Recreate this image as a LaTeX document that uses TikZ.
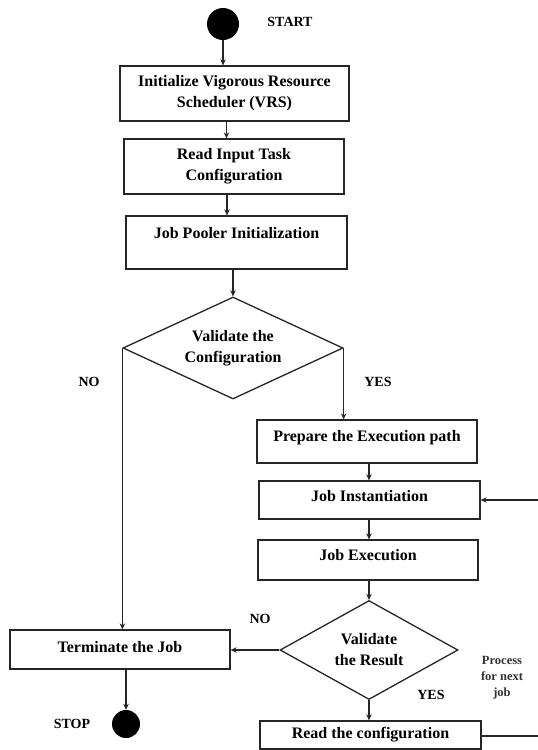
\documentclass[tikz,border=0pt]{standalone}
\usepackage{fontspec}
\setmainfont{Liberation Serif}
\usetikzlibrary{shapes.geometric,arrows.meta}
\tikzset{
  box/.style={draw=black!85, line width=1.3pt, rectangle, inner sep=0pt, align=center,
    font=\fontsize{16}{21}\selectfont\bfseries},
  dia/.style={draw=black!85, line width=1.3pt, diamond, aspect=2.2, inner sep=0pt, align=center,
    font=\fontsize{16}{21}\selectfont\bfseries},
  lbl/.style={font=\fontsize{14}{16}\selectfont\bfseries, inner sep=0pt},
  small/.style={font=\fontsize{12.5}{16}\selectfont\bfseries, align=center, inner sep=0pt, text=black!80},
  term/.style={circle, fill=black, inner sep=0pt},
  arr/.style={line width=1.2pt, draw=black!85, -{Stealth[length=6pt,width=5.5pt]}},
  ln/.style={line width=1.2pt, draw=black!85}
}
\begin{document}
\begin{tikzpicture}[x=1pt,y=-1pt]
\useasboundingbox (0,0) rectangle (538,750);
\fill[white] (0,0) rectangle (538,750);

\node[term, minimum size=32pt] (start) at (223,24) {};
\node[lbl] (startl) at (290,22) {START};

\node[box, minimum width=229pt, minimum height=55pt] (b1) at (234.5,93.5) {Initialize Vigorous Resource\\Scheduler (VRS)};
\node[box, minimum width=220pt, minimum height=55pt] (b2) at (234,166.5) {Read Input Task\\Configuration};
\node[box, minimum width=221pt, minimum height=53pt, text height=11pt, text depth=20pt] (b3) at (236.5,242.5) {Job Pooler Initialization};

\node[dia, minimum width=220pt, minimum height=102pt] (d1) at (233,348) {Validate the\\Configuration};
\node[lbl] (no1) at (89,382) {NO};
\node[lbl] (yes1) at (378,382) {YES};

\node[box, minimum width=220pt, minimum height=43pt, text height=11pt, text depth=12pt] (prep) at (367,441.5) {Prepare the Execution path};
\node[box, minimum width=221pt, minimum height=38pt, text height=11pt, text depth=8pt] (inst) at (369.5,500) {Job Instantiation};
\node[box, minimum width=220pt, minimum height=40pt, text height=11pt, text depth=10pt] (exec) at (368,560) {Job Execution};

\node[dia, minimum width=178pt, minimum height=99pt, aspect=1.8] (d2) at (369,650) {Validate\\the Result};
\node[lbl] (no2) at (260,619) {NO};
\node[lbl] (yes2) at (431,695) {YES};
\node[small] (proc) at (502,678) {Process\\for next\\job};

\node[box, minimum width=221pt, minimum height=28pt] (read) at (370.5,735) {Read the configuration};
\node[box, minimum width=220pt, minimum height=39pt, text height=11pt, text depth=6pt] (termb) at (120,649.5) {Terminate the Job};

\node[term, minimum size=28pt] (stop) at (126,724) {};
\node[lbl] (stopl) at (72,724) {STOP};

\coordinate (rin) at (540,500);
\coordinate (rout) at (540,736);

\draw[arr] (start) -- (start |- b1.north);
\draw[arr] ([xshift=-8pt]b1.south) -- ([xshift=-8pt]b1.south |- b2.north);
\draw[arr] ([xshift=-7pt]b2.south) -- ([xshift=-7pt]b2.south |- b3.north);
\draw[arr] (d1.north |- b3.south) -- (d1.north);
\draw[arr] (d1.east) -- (d1.east |- prep.north);
\draw[arr] (d1.west) -- (d1.west |- termb.north);
\draw[arr] (d2.north |- prep.south) -- (d2.north |- inst.north);
\draw[arr] (d2.north |- inst.south) -- (d2.north |- exec.north);
\draw[arr] (d2.north |- exec.south) -- (d2.north);
\draw[arr] (d2.south) -- (d2.south |- read.north);
\draw[arr] (d2.west) -- (d2.west -| termb.east);
\draw[arr] (stop |- termb.south) -- (stop.north);
\draw[ln] (read.east |- rout) -- (rout);
\draw[arr] (rin) -- (inst.east |- rin);
\end{tikzpicture}
\end{document}
